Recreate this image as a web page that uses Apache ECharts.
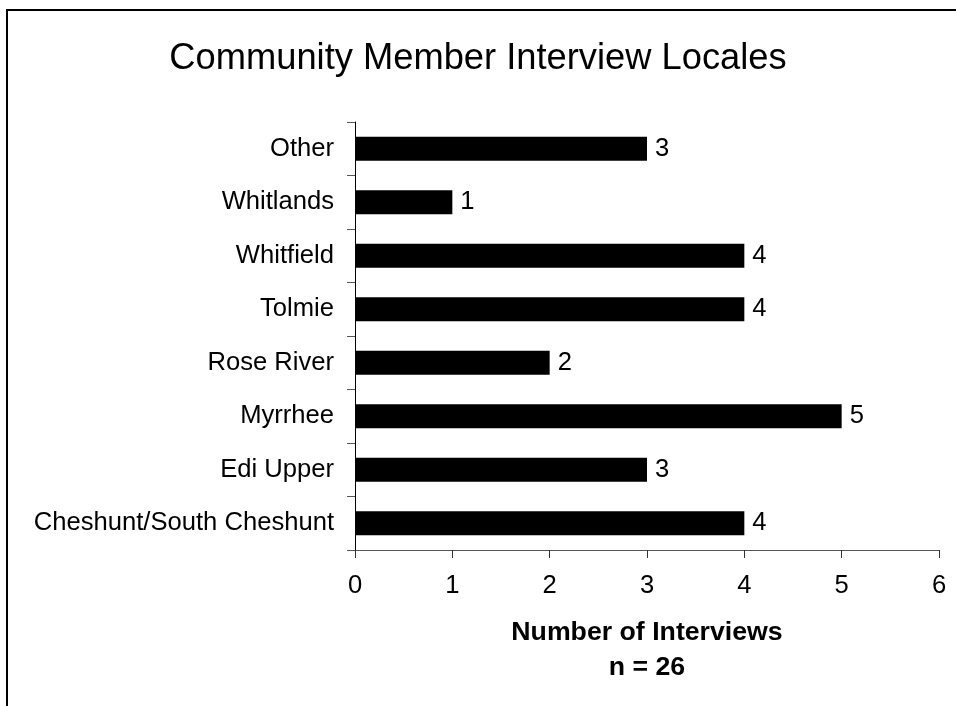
<!DOCTYPE html>
<html><head><meta charset="utf-8">
<script src="https://cdn.jsdelivr.net/npm/echarts@6/dist/echarts.min.js"></script>
<style>html,body{margin:0;padding:0;background:#fff}#c{width:956px;height:706px}</style>
</head><body><div id="c"></div>
<script>
const categories = ["Cheshunt/South Cheshunt","Edi Upper","Myrrhee","Rose River","Tolmie","Whitfield","Whitlands","Other"];
const values = [4,3,5,2,4,4,1,3];
const xTicks = [0,1,2,3,4,5,6];
const chart = echarts.init(document.getElementById('c'), null, {renderer:'canvas'});
const F = 'Liberation Sans, Arial, sans-serif';
chart.setOption({
  backgroundColor:'#fff',
  animation:false,
  title:{text:'Community Member Interview Locales',left:'center',top:36,textStyle:{fontFamily:F,fontSize:36.3,fontWeight:'normal',color:'#000'}},
  graphic:[{type:'rect',shape:{x:7,y:10,width:1000,height:800},style:{fill:'none',stroke:'#000',lineWidth:2}}],
  grid:{left:355,right:17,top:122,bottom:156,containLabel:false},
  xAxis:{type:'value',min:xTicks[0],max:xTicks[xTicks.length-1],interval:1,
    axisLine:{show:true,lineStyle:{color:'#555',width:1}},
    axisTick:{show:true,length:8,lineStyle:{color:'#333'}},
    splitLine:{show:false},
    axisLabel:{fontFamily:F,fontSize:25.6,color:'#000',margin:23},
    name:'Number of Interviews\nn = 26',nameLocation:'middle',nameGap:65,
    nameTextStyle:{fontFamily:F,fontSize:26.7,fontWeight:'bold',color:'#000',lineHeight:35}},
  yAxis:{type:'category',data:categories,
    axisLine:{show:true,lineStyle:{color:'#000',width:1}},
    axisTick:{show:true,length:8,inside:false,lineStyle:{color:'#555'}},
    axisLabel:{fontFamily:F,fontSize:25.6,color:'#000',margin:21}},
  series:[{type:'bar',data:values,barWidth:'45%',itemStyle:{color:'#000'},
    label:{show:true,position:'right',distance:8,fontFamily:F,fontSize:25.6,color:'#000'}}]
});
</script></body></html>
